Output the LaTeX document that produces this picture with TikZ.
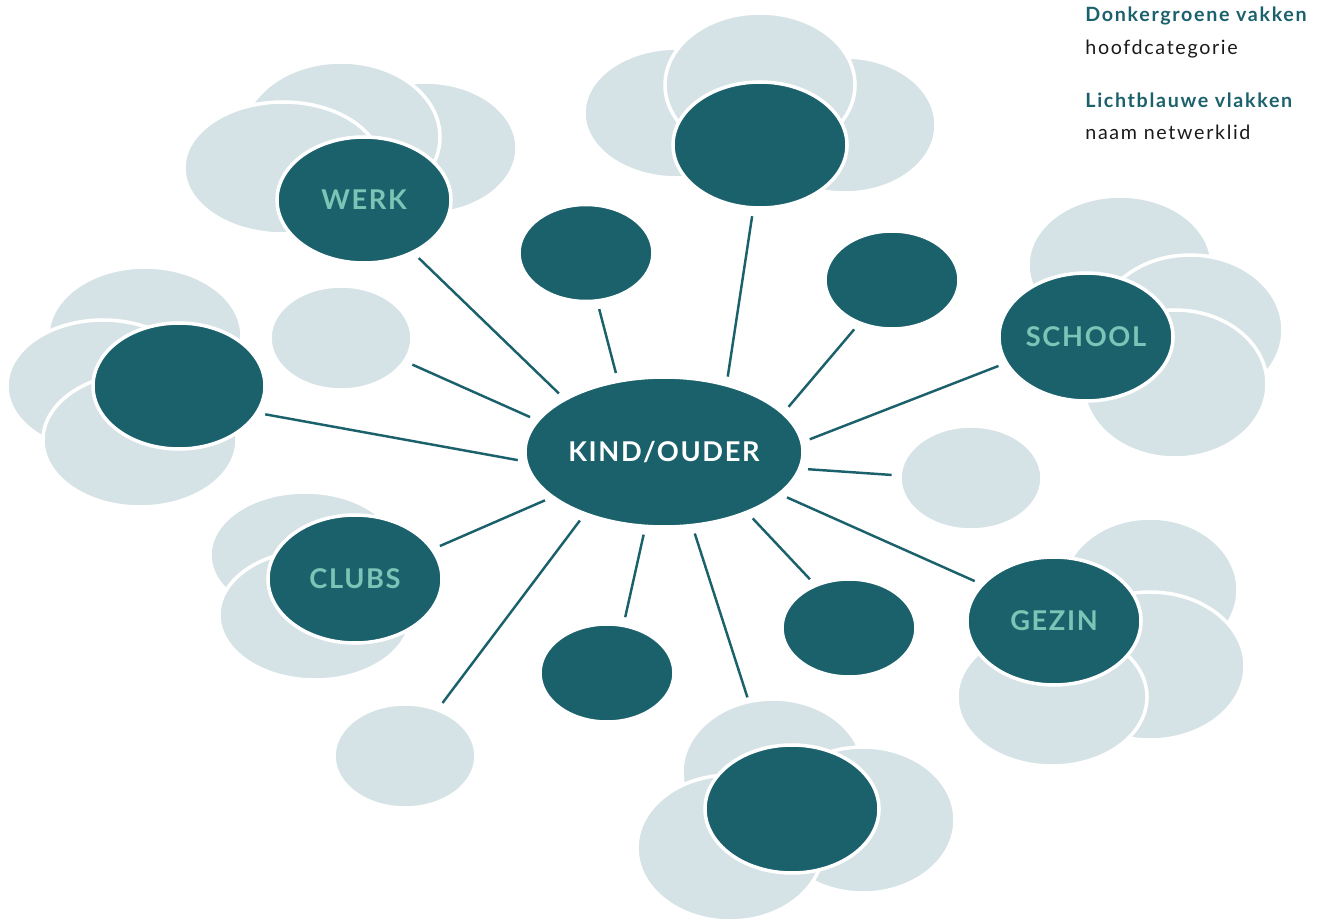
\documentclass[tikz,border=0pt]{standalone}
\usepackage{fontspec}
\setmainfont{Lato}
\usetikzlibrary{shapes.geometric}
\definecolor{teal}{RGB}{27,97,108}
\definecolor{mist}{RGB}{214,227,230}
\definecolor{mint}{RGB}{124,196,181}
\definecolor{ink}{RGB}{26,26,26}
\newcommand{\px}{0.02cm}
\tikzset{
  blob/.style 2 args={ellipse, inner sep=0pt, outer sep=0pt,
    minimum width=#1*\px, minimum height=#2*\px, draw=white, line width=2pt},
  cloud/.style={fill=mist},
  hub/.style={fill=teal},
  cat/.style={font=\fontsize{15.5}{18}\selectfont\bfseries\addfontfeature{LetterSpace=6}, text=mint},
  link/.style={draw=teal, line width=1.4pt, shorten <=0.17cm, shorten >=0.17cm},
  legendhead/.style={font=\fontsize{11.2}{13}\selectfont\bfseries\addfontfeature{LetterSpace=8.5}, text=teal, anchor=base west, inner sep=0pt},
  legendtext/.style={font=\fontsize{11.2}{13}\selectfont\addfontfeature{LetterSpace=8.5}, text=ink, anchor=base west, inner sep=0pt}
}
\begin{document}
\begin{tikzpicture}[x=\px, y=-\px]
\useasboundingbox (0,0) rectangle (1322,919);

% WERK group
\node[blob={184}{132}, cloud] (w1) at (425,148) {};
\node[blob={198}{150}, cloud] (w2) at (341,137) {};
\node[blob={198}{132}, cloud] (w3) at (283,168) {};
\node[blob={174}{126}, hub, cat] (werk) at (364,200) {WERK};

% left group
\node[blob={194}{138}, cloud] (l1) at (145,336) {};
\node[blob={192}{132}, cloud] (l2) at (103,386) {};
\node[blob={194}{134}, cloud] (l3) at (140,440) {};
\node[blob={172}{126}, hub] (left) at (179,386) {};

% top group
\node[blob={186}{130}, cloud] (t1) at (677,113) {};
\node[blob={182}{136}, cloud] (t2) at (845,125) {};
\node[blob={190}{144}, cloud] (t3) at (760,85) {};
\node[blob={174}{126}, hub] (top) at (760,145) {};

% SCHOOL group
\node[blob={184}{138}, cloud] (s1) at (1120,265) {};
\node[blob={186}{150}, cloud] (s2) at (1190,330) {};
\node[blob={184}{148}, cloud] (s3) at (1175,384) {};
\node[blob={174}{128}, hub, cat] (school) at (1086,337) {SCHOOL};

% GEZIN group
\node[blob={176}{144}, cloud] (g1) at (1150,590) {};
\node[blob={190}{148}, cloud] (g2) at (1150,666) {};
\node[blob={190}{138}, cloud] (g3) at (1052,697) {};
\node[blob={174}{128}, hub, cat] (gezin) at (1054,621) {GEZIN};

% bottom group
\node[blob={182}{146}, cloud] (b1) at (773,772) {};
\node[blob={184}{146}, cloud] (b2) at (863,820) {};
\node[blob={186}{146}, cloud] (b3) at (730,848) {};
\node[blob={174}{128}, hub] (bottom) at (792,809) {};

% CLUBS group
\node[blob={190}{126}, cloud] (c1) at (305,555) {};
\node[blob={192}{130}, cloud] (c2) at (315,615) {};
\node[blob={174}{128}, hub, cat] (clubs) at (355,579) {CLUBS};

% single members
\node[blob={142}{104}, cloud] (m1) at (341,338) {};
\node[blob={142}{104}, cloud] (m2) at (971,478) {};
\node[blob={142}{104}, cloud] (m3) at (405,756) {};
\node[blob={134}{97}, hub] (h1) at (586,253) {};
\node[blob={134}{98}, hub] (h2) at (892,280) {};
\node[blob={134}{98}, hub] (h3) at (607,673) {};
\node[blob={134}{98}, hub] (h4) at (849,628) {};

% centre
\node[blob={278}{150}, hub, cat, text=white] (kind) at (664,452) {KIND/OUDER};

% spokes
\draw[link] (kind.152.1) -- (werk.-47.6);
\draw[link] (kind.184.4) -- (left.-19.9);
\draw[link] (kind.166.6) -- (m1.-20.4);
\draw[link] (kind.123.2) -- (h1.-77.2);
\draw[link] (kind.47.5) -- (top.-96.7);
\draw[link] (kind.18.2) -- (h2.-127.5);
\draw[link] (kind.4.8) -- (school.198.8);
\draw[link] (kind.-7.3) -- (m2.178.5);
\draw[link] (kind.-20) -- (gezin.153.4);
\draw[link] (kind.-36.8) -- (h4.128.9);
\draw[link, shorten >=0.09cm] (kind.-69.6) -- (b1.109.1);
\draw[link] (kind.-104.7) -- (h3.71.2);
\draw[link] (kind.-142.9) -- (m3.55);
\draw[link] (kind.-158.7) -- (clubs.21.6);

% legend
\node[legendhead] (lh1) at (1085,22) {Donkergroene vakken};
\node[legendtext] (lt1) at (1085,55) {hoofdcategorie};
\node[legendhead] (lh2) at (1085,108) {Lichtblauwe vlakken};
\node[legendtext] (lt2) at (1085,139) {naam netwerklid};
\end{tikzpicture}
\end{document}
